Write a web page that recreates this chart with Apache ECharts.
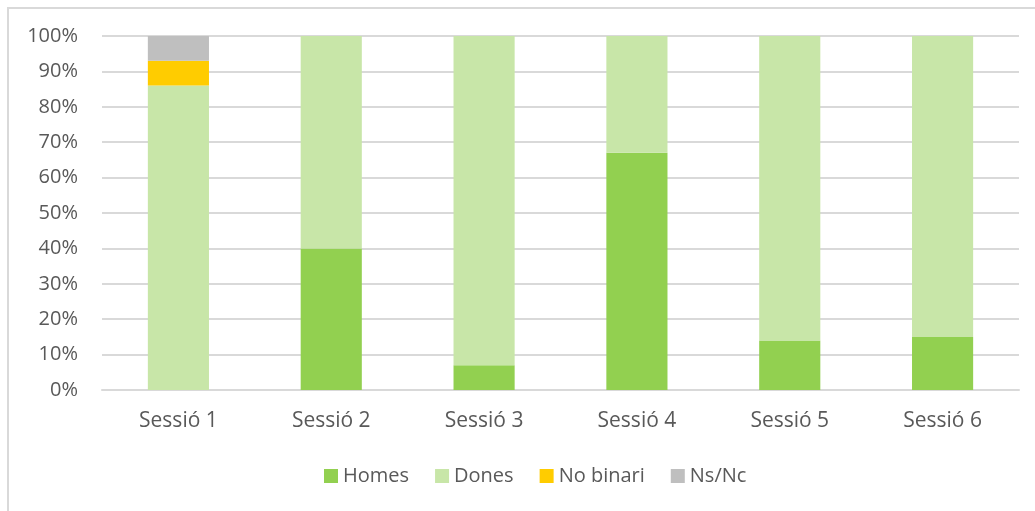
<!DOCTYPE html>
<html>
<head>
<meta charset="utf-8">
<script src="https://cdn.jsdelivr.net/npm/echarts@6/dist/echarts.min.js"></script>
<style>
  html, body { margin: 0; padding: 0; background: #fff; }
  .frame { position: absolute; left: 7px; top: 7px; width: 1040px; height: 520px;
           border-left: 2px solid #D9D9D9; border-top: 2px solid #D9D9D9; }
  #chart { position: absolute; left: 0; top: 0; width: 1035px; height: 511px; }
</style>
</head>
<body>
<div class="frame"></div>
<div id="chart"></div>
<script>
// dades del gràfic (percentatges per sessió)
var sessions = ['Sessió 1', 'Sessió 2', 'Sessió 3', 'Sessió 4', 'Sessió 5', 'Sessió 6'];
var homes = [0, 40, 7, 67, 14, 15];
var dones = [86, 60, 93, 33, 86, 85];
var noBinari = [7, 0, 0, 0, 0, 0];
var nsNc = [7, 0, 0, 0, 0, 0];

var myChart = echarts.init(document.getElementById('chart'));

var textColor = '#595959';
var font = 'Open Sans';

function serie(name, data, color) {
    return {
        name: name,
        type: 'bar',
        stack: 'total',
        barWidth: '40%',
        data: data,
        itemStyle: { color: color }
    };
}

var option = {
    animation: false,
    textStyle: { fontFamily: font },
    grid: { left: 102, right: 16, top: 36, bottom: 121 },
    legend: {
        bottom: 20,
        left: 319,
        itemWidth: 14,
        itemHeight: 14,
        itemGap: 26,
        icon: 'rect',
        textStyle: { color: textColor, fontSize: 20, fontFamily: font },
        data: ['Homes', 'Dones', 'No binari', 'Ns/Nc']
    },
    xAxis: {
        type: 'category',
        data: sessions,
        axisTick: { show: false },
        axisLine: { lineStyle: { color: '#D9D9D9', width: 2 } },
        axisLabel: { color: textColor, fontSize: 21, margin: 21, fontFamily: font }
    },
    yAxis: {
        type: 'value',
        min: 0,
        max: 100,
        interval: 10,
        axisLabel: { formatter: '{value}%', color: textColor, fontSize: 20, margin: 24, fontFamily: font },
        splitLine: { lineStyle: { color: '#D9D9D9', width: 2 } },
        axisLine: { show: false },
        axisTick: { show: false }
    },
    series: [
        serie('Homes', homes, '#92D050'),
        serie('Dones', dones, '#C8E6A8'),
        serie('No binari', noBinari, '#FFCC00'),
        serie('Ns/Nc', nsNc, '#BFBFBF')
    ]
};

myChart.setOption(option);
</script>
</body>
</html>
